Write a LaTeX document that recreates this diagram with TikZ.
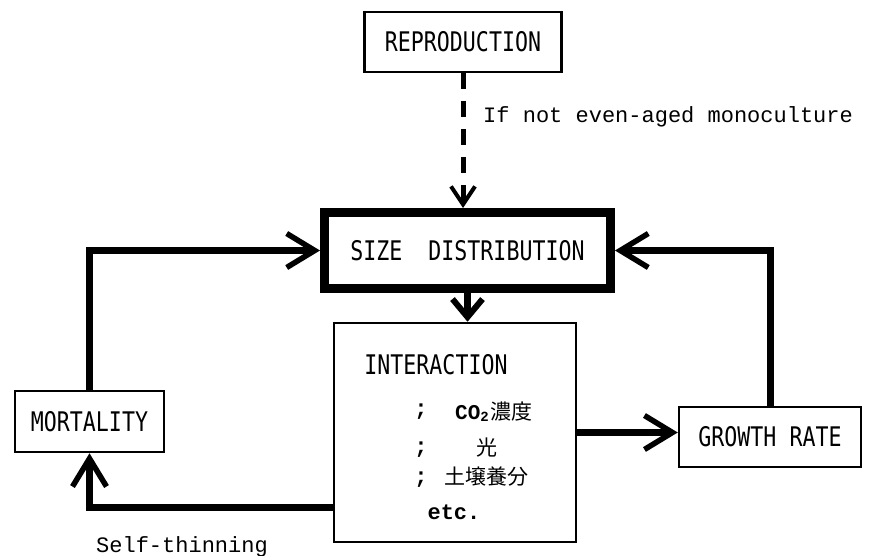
\documentclass[tikz,border=0pt]{standalone}
\usepackage{fontspec}
\usetikzlibrary{arrows.meta}
\newfontfamily\boxfont[FakeStretch=0.8]{DejaVu Sans Mono}
\newfontfamily\labfont{Liberation Mono}
\newfontfamily\cjk{Noto Sans CJK JP}
\begin{document}
\begin{tikzpicture}[x=1pt,y=-1pt,
  box/.style={draw, line width=2.5pt, inner sep=0pt, font=\boxfont\fontsize{27}{27}\selectfont},
  boxtext/.style={inner sep=0pt, font=\boxfont\fontsize{27}{27}\selectfont},
  lab/.style={inner sep=0pt, font=\labfont\fontsize{22}{22}\selectfont},
  labb/.style={inner sep=0pt, font=\labfont\bfseries\fontsize{22}{22}\selectfont},
  cjkt/.style={inner sep=0pt, font=\cjk\fontsize{21}{21}\selectfont},
  conn/.style={line width=7pt, -{Straight Barb[length=28pt,width=34pt,line width=5.5pt]}},
  dconn/.style={line width=5pt, dash pattern=on 16pt off 12pt,
    -{Straight Barb[length=18pt,width=24pt,line width=4pt]}}
]
\useasboundingbox (0,0) rectangle (871,556);
\node[box, minimum width=197pt, minimum height=60pt] (repro) at (463,42) {REPRODUCTION};
\node[box, line width=9pt, minimum width=286pt, minimum height=76pt] (size) at (467.5,250.5) {SIZE\ \ DISTRIBUTION};
\node[box, minimum width=242pt, minimum height=219pt] (inter) at (455,432.5) {};
\node[box, minimum width=149pt, minimum height=61pt] (mort) at (89.5,421.5) {MORTALITY};
\node[box, minimum width=182pt, minimum height=60pt] (growth) at (770,437) {GROWTH RATE};

\node[lab, anchor=west] (cond) at (483,117) {If not even-aged monoculture};
\node[lab] (self) at (182,547) {Self-thinning};
\node[boxtext] (intxt) at (436,365) {INTERACTION};
\node[labb] (s1) at (421,412) {;};
\node[labb] (s2) at (421,450) {;};
\node[labb] (s3) at (421,480) {;};
\node[inner sep=0pt, anchor=west] (co2) at (455,412) {{\labfont\bfseries\fontsize{21}{21}\selectfont CO\raisebox{-2pt}{\fontsize{14}{14}\selectfont 2}}\,{\cjk\fontsize{21}{21}\selectfont 濃度}};
\node[cjkt] (hikari) at (487,448) {光};
\node[cjkt] (dojo) at (486,477) {土壌養分};
\node[labb] (etc) at (454,512) {etc.};

\draw[dconn] (repro.south) -- (repro.south |- size.north);
\draw[conn, -{Straight Barb[length=18pt,width=30pt,line width=6pt]}] (size.south) -- (size.south |- inter.north);
\draw[conn] (mort.north) |- (size.west);
\draw[conn] (growth.north) |- (size.east);
\draw[conn] (inter.east) -- (inter.east -| growth.west);
\draw[conn] (inter.west) ++(0,74.5) -| (mort.south);
\end{tikzpicture}
\end{document}
